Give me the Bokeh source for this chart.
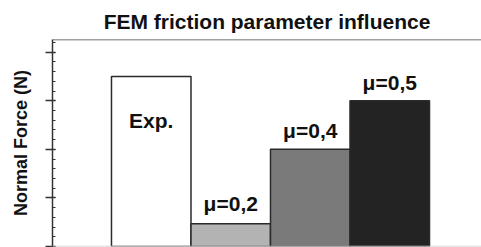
import numpy as np
from bokeh.plotting import figure
from bokeh.models import Range1d, Span, ColumnDataSource, FixedTicker
from bokeh.core.properties import value
from bokeh.embed import file_html
from bokeh.resources import INLINE

# ---- data ----
labels = ["Exp.", "μ=0,2", "μ=0,4", "μ=0,5"]
forces = [3.5, 0.47, 2.0, 3.0]
y_ticks = [0, 1, 2, 3, 4]

# ---- styles ----
fills = ["#ffffff", "#b3b3b3", "#7a7a7a", "#232323"]
label_offsets = [44, -20, -19, -18]
FONT = "Liberation Sans"

x = list(range(len(labels)))
src = ColumnDataSource(dict(x=x, top=forces, fill=fills, label=labels,
                            yoff=label_offsets))

p = figure(width=481, height=247, output_backend="svg", toolbar_location=None,
           x_range=Range1d(-0.742 - 0.5, 4.154), y_range=Range1d(0, 4.26),
           min_border_left=52, min_border_right=0, min_border_top=39,
           min_border_bottom=1)
p.title.text = "FEM friction parameter influence"
p.title.align = "center"
p.title.vertical_align = "top"
p.title.text_font = FONT
p.title.text_font_size = "21px"
p.title.text_font_style = "bold"
p.title.text_color = "#111111"

p.outline_line_color = None
p.xgrid.visible = False
p.ygrid.visible = False
p.xaxis.visible = False

p.vbar(x="x", top="top", bottom=0, width=1.0, fill_color="fill",
       line_color="#2a2a2a", line_width=1.5, source=src)

p.text(x="x", y="top", text="label", y_offset="yoff", source=src,
       text_align="center", text_baseline="alphabetic",
       text_font=value(FONT), text_font_size="21px", text_font_style="bold",
       text_color="#111111")

ax = p.yaxis[0]
ax.ticker = FixedTicker(ticks=y_ticks, minor_ticks=list(np.arange(0, 4.3, 0.2)))
ax.major_label_overrides = {t: "" for t in y_ticks}
ax.major_label_standoff = 0
ax.major_tick_out = 7
ax.major_tick_in = 3
ax.minor_tick_out = 0
ax.minor_tick_in = 3
ax.axis_line_color = "#333333"
ax.axis_line_width = 1.5
ax.major_tick_line_color = "#333333"
ax.major_tick_line_width = 1.5
ax.minor_tick_line_color = "#333333"
ax.axis_label = "Normal Force (N)"
ax.axis_label_text_font = FONT
ax.axis_label_text_font_size = "18px"
ax.axis_label_text_font_style = "bold"
ax.axis_label_text_color = "#111111"
ax.axis_label_standoff = 15

p.add_layout(Span(location=4.26, dimension="width", line_color="#444444", line_width=1.5))
p.add_layout(Span(location=0, dimension="width", line_color="#cccccc", line_width=1.5))

open("out.html", "w").write(file_html(p, INLINE))
